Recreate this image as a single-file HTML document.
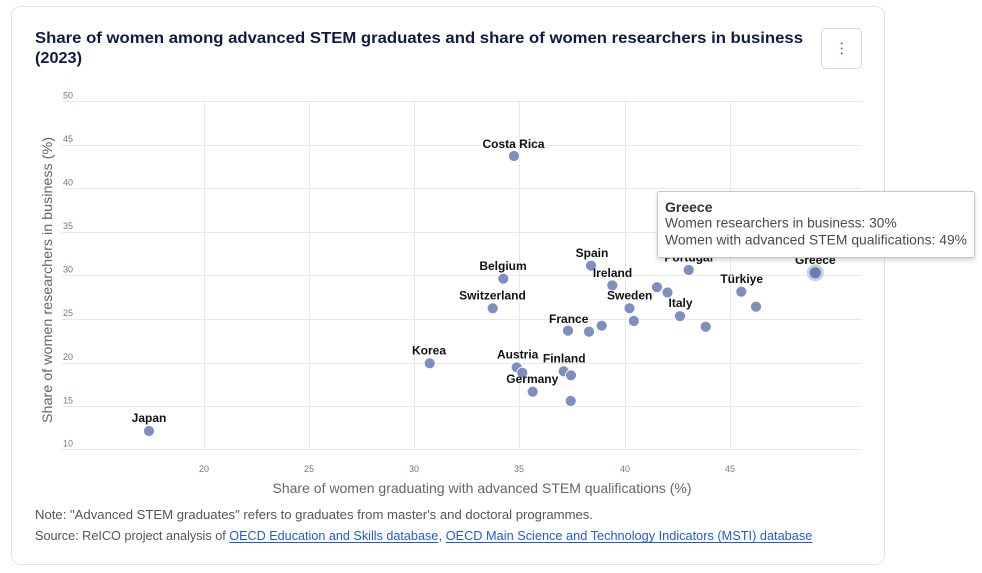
<!DOCTYPE html>
<html><head><meta charset="utf-8"><style>
html,body{margin:0;padding:0;background:#fff;}
svg{display:block;font-family:"Liberation Sans",Arial,sans-serif;}
</style></head><body>
<svg width="982" height="573" viewBox="0 0 982 573" xmlns="http://www.w3.org/2000/svg">
<defs>
<filter id="sh" x="-10%" y="-20%" width="120%" height="150%"><feDropShadow dx="0" dy="2" stdDeviation="2" flood-color="#000" flood-opacity="0.18"/></filter>
</defs>
<rect x="0" y="0" width="982" height="573" fill="#fff"/>
<rect x="11.5" y="6.5" width="873" height="558" rx="9" fill="#fff" stroke="#dfe2e8"/>
<text x="35" y="43" font-size="16" font-weight="bold" fill="#0f1c3f" textLength="768" lengthAdjust="spacingAndGlyphs">Share of women among advanced STEM graduates and share of women researchers in business</text>
<text x="35" y="63" font-size="16" font-weight="bold" fill="#0f1c3f" textLength="47" lengthAdjust="spacingAndGlyphs">(2023)</text>
<rect x="821.5" y="28.5" width="40" height="40" rx="4" fill="#fff" stroke="#d8dce4"/>
<circle cx="841.7" cy="43.5" r="1" fill="#3b6fd8"/>
<circle cx="841.7" cy="48.5" r="1" fill="#3b6fd8"/>
<circle cx="841.7" cy="53.5" r="1" fill="#3b6fd8"/>
<g stroke="#e6e8ee" stroke-width="1">
<line x1="62" y1="101.5" x2="862" y2="101.5"/>
<line x1="62" y1="145.5" x2="862" y2="145.5"/>
<line x1="62" y1="188.5" x2="862" y2="188.5"/>
<line x1="62" y1="232.5" x2="862" y2="232.5"/>
<line x1="62" y1="275.5" x2="862" y2="275.5"/>
<line x1="62" y1="319.5" x2="862" y2="319.5"/>
<line x1="62" y1="363.5" x2="862" y2="363.5"/>
<line x1="62" y1="406.5" x2="862" y2="406.5"/>
<line x1="62" y1="449.5" x2="862" y2="449.5"/>
<line x1="204.5" y1="101" x2="204.5" y2="450"/>
<line x1="309.5" y1="101" x2="309.5" y2="450"/>
<line x1="414.5" y1="101" x2="414.5" y2="450"/>
<line x1="519.5" y1="101" x2="519.5" y2="450"/>
<line x1="625.5" y1="101" x2="625.5" y2="450"/>
<line x1="730.5" y1="101" x2="730.5" y2="450"/>
</g>
<g font-size="9" fill="#6a7899">
<text x="63" y="98.5">50</text>
<text x="63" y="142">45</text>
<text x="63" y="185.5">40</text>
<text x="63" y="229">35</text>
<text x="63" y="272.5">30</text>
<text x="63" y="316">25</text>
<text x="63" y="360">20</text>
<text x="63" y="403.5">15</text>
<text x="63" y="446.5">10</text>
</g>
<g font-size="9" fill="#6a7899" text-anchor="middle">
<text x="204" y="472">20</text>
<text x="309" y="472">25</text>
<text x="414" y="472">30</text>
<text x="519" y="472">35</text>
<text x="625" y="472">40</text>
<text x="730" y="472">45</text>
</g>
<text transform="translate(52,280) rotate(-90)" text-anchor="middle" font-size="14" fill="#666" textLength="286" lengthAdjust="spacingAndGlyphs">Share of women researchers in business (%)</text>
<text x="272.5" y="493" font-size="14" fill="#666" textLength="419" lengthAdjust="spacingAndGlyphs">Share of women graduating with advanced STEM qualifications (%)</text>
<g fill="#7d8ec0" stroke="#fff" stroke-width="0.8">
<circle cx="514" cy="156" r="5.5"/>
<circle cx="591" cy="265.7" r="5.5"/>
<circle cx="503.3" cy="278.7" r="5.5"/>
<circle cx="612.3" cy="285.3" r="5.5"/>
<circle cx="657" cy="287.2" r="5.5"/>
<circle cx="667.5" cy="292.5" r="5.5"/>
<circle cx="688.7" cy="270" r="5.5"/>
<circle cx="492.7" cy="308.3" r="5.5"/>
<circle cx="629.5" cy="308.3" r="5.5"/>
<circle cx="633.8" cy="321" r="5.5"/>
<circle cx="680" cy="316.2" r="5.5"/>
<circle cx="568" cy="330.7" r="5.5"/>
<circle cx="589" cy="331.7" r="5.5"/>
<circle cx="601.7" cy="325.7" r="5.5"/>
<circle cx="429.7" cy="363.3" r="5.5"/>
<circle cx="516.7" cy="367.3" r="5.5"/>
<circle cx="522.3" cy="372.7" r="5.5"/>
<circle cx="563.7" cy="371.3" r="5.5"/>
<circle cx="571" cy="375.3" r="5.5"/>
<circle cx="532.7" cy="391.7" r="5.5"/>
<circle cx="570.7" cy="401" r="5.5"/>
<circle cx="149" cy="431" r="5.5"/>
<circle cx="741.3" cy="291.7" r="5.5"/>
<circle cx="756" cy="306.7" r="5.5"/>
<circle cx="705.7" cy="326.7" r="5.5"/>
</g>
<circle cx="815.3" cy="272.7" r="8.5" fill="#c9d0e5"/>
<circle cx="815.3" cy="272.7" r="5.5" fill="#6a7cb5"/>
<g font-size="12" font-weight="bold" fill="#111" text-anchor="middle">
<text x="513.5" y="148">Costa Rica</text>
<text x="592" y="257">Spain</text>
<text x="503" y="270">Belgium</text>
<text x="612.5" y="277">Ireland</text>
<text x="492.5" y="299.5">Switzerland</text>
<text x="629.7" y="299.5">Sweden</text>
<text x="680.5" y="307">Italy</text>
<text x="568.7" y="323">France</text>
<text x="429" y="354.5">Korea</text>
<text x="517.7" y="358.5">Austria</text>
<text x="564.2" y="362.5">Finland</text>
<text x="532.3" y="383">Germany</text>
<text x="149" y="422">Japan</text>
<text x="741.7" y="283">Türkiye</text>
<text x="688.7" y="261.5">Portugal</text>
<text x="815.3" y="264">Greece</text>
</g>
<rect x="657.5" y="191.5" width="317" height="66" rx="2" fill="#fff" stroke="#c8c8c8" filter="url(#sh)"/>
<text x="665" y="212" font-size="14" font-weight="bold" fill="#333">Greece</text>
<text x="665" y="227.5" font-size="14" fill="#4a4a4a" textLength="231.7" lengthAdjust="spacingAndGlyphs">Women researchers in business: 30%</text>
<text x="665" y="244.5" font-size="14" fill="#4a4a4a" textLength="302" lengthAdjust="spacingAndGlyphs">Women with advanced STEM qualifications: 49%</text>
<text x="35" y="519" font-size="13" fill="#555" textLength="558" lengthAdjust="spacingAndGlyphs">Note: "Advanced STEM graduates" refers to graduates from master's and doctoral programmes.</text>
<text x="35" y="540" font-size="13" fill="#555" textLength="190.8" lengthAdjust="spacingAndGlyphs">Source: ReICO project analysis of</text>
<text x="229.3" y="540" font-size="13" fill="#1f5bd8" textLength="209" lengthAdjust="spacingAndGlyphs">OECD Education and Skills database</text>
<line x1="229.3" y1="542.5" x2="438.3" y2="542.5" stroke="#1f5bd8" stroke-width="1"/>
<text x="438.5" y="540" font-size="13" fill="#555">,</text>
<text x="445.7" y="540" font-size="13" fill="#1f5bd8" textLength="366.6" lengthAdjust="spacingAndGlyphs">OECD Main Science and Technology Indicators (MSTI) database</text>
<line x1="445.7" y1="542.5" x2="812.3" y2="542.5" stroke="#1f5bd8" stroke-width="1"/>
</svg>
</body></html>
